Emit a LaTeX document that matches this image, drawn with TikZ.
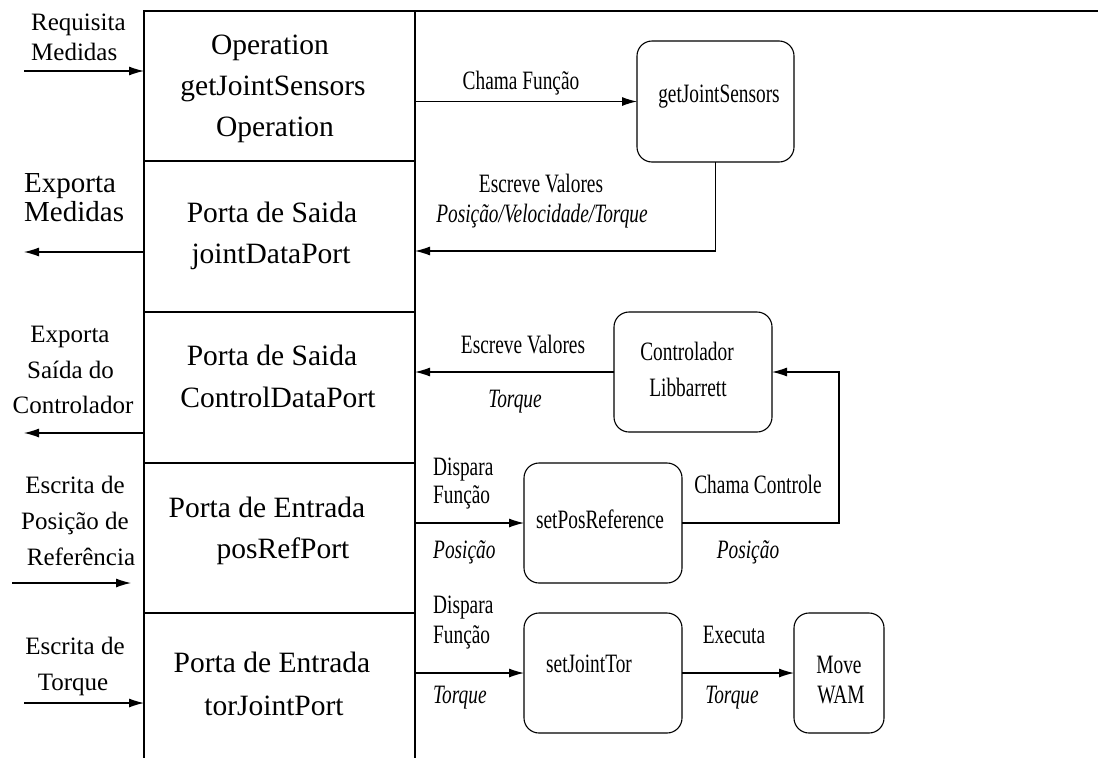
\documentclass[tikz,border=0pt]{standalone}
\usepackage{fontspec}
\setmainfont{Liberation Serif}
\newfontfamily\narrowserif[FakeStretch=0.73]{Liberation Serif}
\usetikzlibrary{arrows.meta}

\begin{document}
\begin{tikzpicture}[x=1pt,y=-1pt,
  line/.style={line width=1.1pt, draw=black},
  arr/.style={line, -{Latex[length=15pt,width=9pt]}},
  block/.style={minimum width=271pt, inner sep=0pt, outer sep=0pt},
  rbox/.style={draw, line width=1.1pt, rounded corners=15pt, inner sep=0pt, outer sep=0pt},
  big/.style={font=\fontsize{29.5}{35}\selectfont, anchor=base, inner sep=0pt},
  side/.style={font=\fontsize{25}{30}\selectfont, anchor=base, inner sep=0pt},
  sidew/.style={side, anchor=base west},
  lbl/.style={font=\narrowserif\fontsize{26.5}{30}\selectfont, anchor=base, inner sep=0pt},
  lblit/.style={font=\narrowserif\itshape\fontsize{26.5}{30}\selectfont, anchor=base, inner sep=0pt},
]
\useasboundingbox (0,0) rectangle (1098,758);

% component column
\node[block, minimum height=150pt] (b1) at (279.5,86) {};
\node[block, minimum height=151pt] (b2) at (279.5,236.5) {};
\node[block, minimum height=151pt] (b3) at (279.5,387.5) {};
\node[block, minimum height=150pt] (b4) at (279.5,538) {};
\node[block, minimum height=145pt] (b5) at (279.5,685.5) {};

\coordinate (topend) at (1098,11);
\draw[line] (topend) -- (b1.north west) -- (b5.south west);
\draw[line] (b1.north east) -- (b5.south east);
\draw[line] (b1.south west) -- (b1.south east);
\draw[line] (b2.south west) -- (b2.south east);
\draw[line] (b3.south west) -- (b3.south east);
\draw[line] (b4.south west) -- (b4.south east);

\node[big] (op1) at (270,54) {Operation};
\node[big] (op2) at (273,95) {getJointSensors};
\node[big] (op3) at (275,136) {Operation};
\node[big] (ps1) at (272,222) {Porta de Saida};
\node[big] (ps2) at (271,263) {jointDataPort};
\node[big] (pc1) at (272,365) {Porta de Saida};
\node[big] (pc2) at (278,407) {ControlDataPort};
\node[big] (pe1) at (267,517) {Porta de Entrada};
\node[big] (pe2) at (283,558) {posRefPort};
\node[big] (pt1) at (272,672) {Porta de Entrada};
\node[big] (pt2) at (274,715) {torJointPort};

% external requests and exports
\coordinate (in1) at (24,71);
\draw[arr] (in1) -- (in1 -| b1.west);
\node[sidew] (rq1) at (31,30) {Requisita};
\node[sidew] (rq2) at (31,60) {Medidas};

\coordinate (out2) at (24,252);
\draw[arr] (out2 -| b2.west) -- (out2);
\node[sidew, font=\fontsize{29}{34}\selectfont] (em1) at (24,192) {Exporta};
\node[sidew, font=\fontsize{29}{34}\selectfont] (em2) at (24,221) {Medidas};

\coordinate (out3) at (24,433);
\draw[arr] (out3 -| b3.west) -- (out3);
\node[side] (ec1) at (70,342) {Exporta};
\node[side] (ec2) at (70.5,378) {Saída do};
\node[side] (ec3) at (73,413) {Controlador};

\coordinate (in4) at (12,583);
\coordinate (in4e) at (131,583);
\draw[arr] (in4) -- (in4e);
\node[side] (wp1) at (75,493) {Escrita de};
\node[side] (wp2) at (75,529) {Posição de};
\node[side] (wp3) at (81,565) {Referência};

\coordinate (in5) at (24,703);
\draw[arr] (in5) -- (in5 -| b5.west);
\node[side] (wt1) at (75,654) {Escrita de};
\node[side] (wt2) at (73,690) {Torque};

% functions
\node[rbox, minimum width=157pt, minimum height=121pt] (gjs) at (715.5,101.5) {};
\node[rbox, minimum width=158pt, minimum height=120pt] (ctrl) at (693,372) {};
\node[rbox, minimum width=158pt, minimum height=120pt] (spr) at (603,523) {};
\node[rbox, minimum width=158pt, minimum height=120pt] (sjt) at (603,673) {};
\node[rbox, minimum width=90pt, minimum height=120pt] (wam) at (839,673) {};

\node[lbl] (gjs-t) at (719,102) {getJointSensors};
\node[lbl] (ctrl-t1) at (687,360) {Controlador};
\node[lbl] (ctrl-t2) at (688,396) {Libbarrett};
\node[lbl] (spr-t) at (600,528) {setPosReference};
\node[lbl] (sjt-t) at (589,672) {setJointTor};
\node[lbl] (wam-t1) at (839,673) {Move};
\node[lbl] (wam-t2) at (841,703) {WAM};

% calls and data flow
\draw[arr] (gjs.west -| b1.east) -- (gjs.west);
\node[lbl] (cf) at (521,89) {Chama Função};

\draw[arr] (gjs.south) |- (b2.east |- 0,251);
\node[lbl] (ev1) at (541,192) {Escreve Valores};
\node[lblit] (ev1v) at (542,222) {Posição/Velocidade/Torque};

\draw[arr] (ctrl.west) -- (ctrl.west -| b3.east);
\node[lbl] (ev2) at (523,353) {Escreve Valores};
\node[lblit] (ev2v) at (515,407) {Torque};

\draw[arr] (spr.west -| b4.east) -- (spr.west);
\node[lbl, anchor=base west] (df1) at (433,475) {Dispara};
\node[lbl, anchor=base west] (df2) at (433,503) {Função};
\node[lblit, anchor=base west] (df3) at (433,558) {Posição};

\draw[arr] (spr.east) -- ++(157,0) |- (ctrl.east);
\node[lbl] (cc) at (758,493) {Chama Controle};
\node[lblit] (ccv) at (748,558) {Posição};

\draw[arr] (sjt.west -| b5.east) -- (sjt.west);
\node[lbl, anchor=base west] (dt1) at (433,613) {Dispara};
\node[lbl, anchor=base west] (dt2) at (433,643) {Função};
\node[lblit, anchor=base west] (dt3) at (433,703) {Torque};

\draw[arr] (sjt.east) -- (wam.west);
\node[lbl] (ex) at (734,643) {Executa};
\node[lblit] (exv) at (732,703) {Torque};
\end{tikzpicture}
\end{document}
